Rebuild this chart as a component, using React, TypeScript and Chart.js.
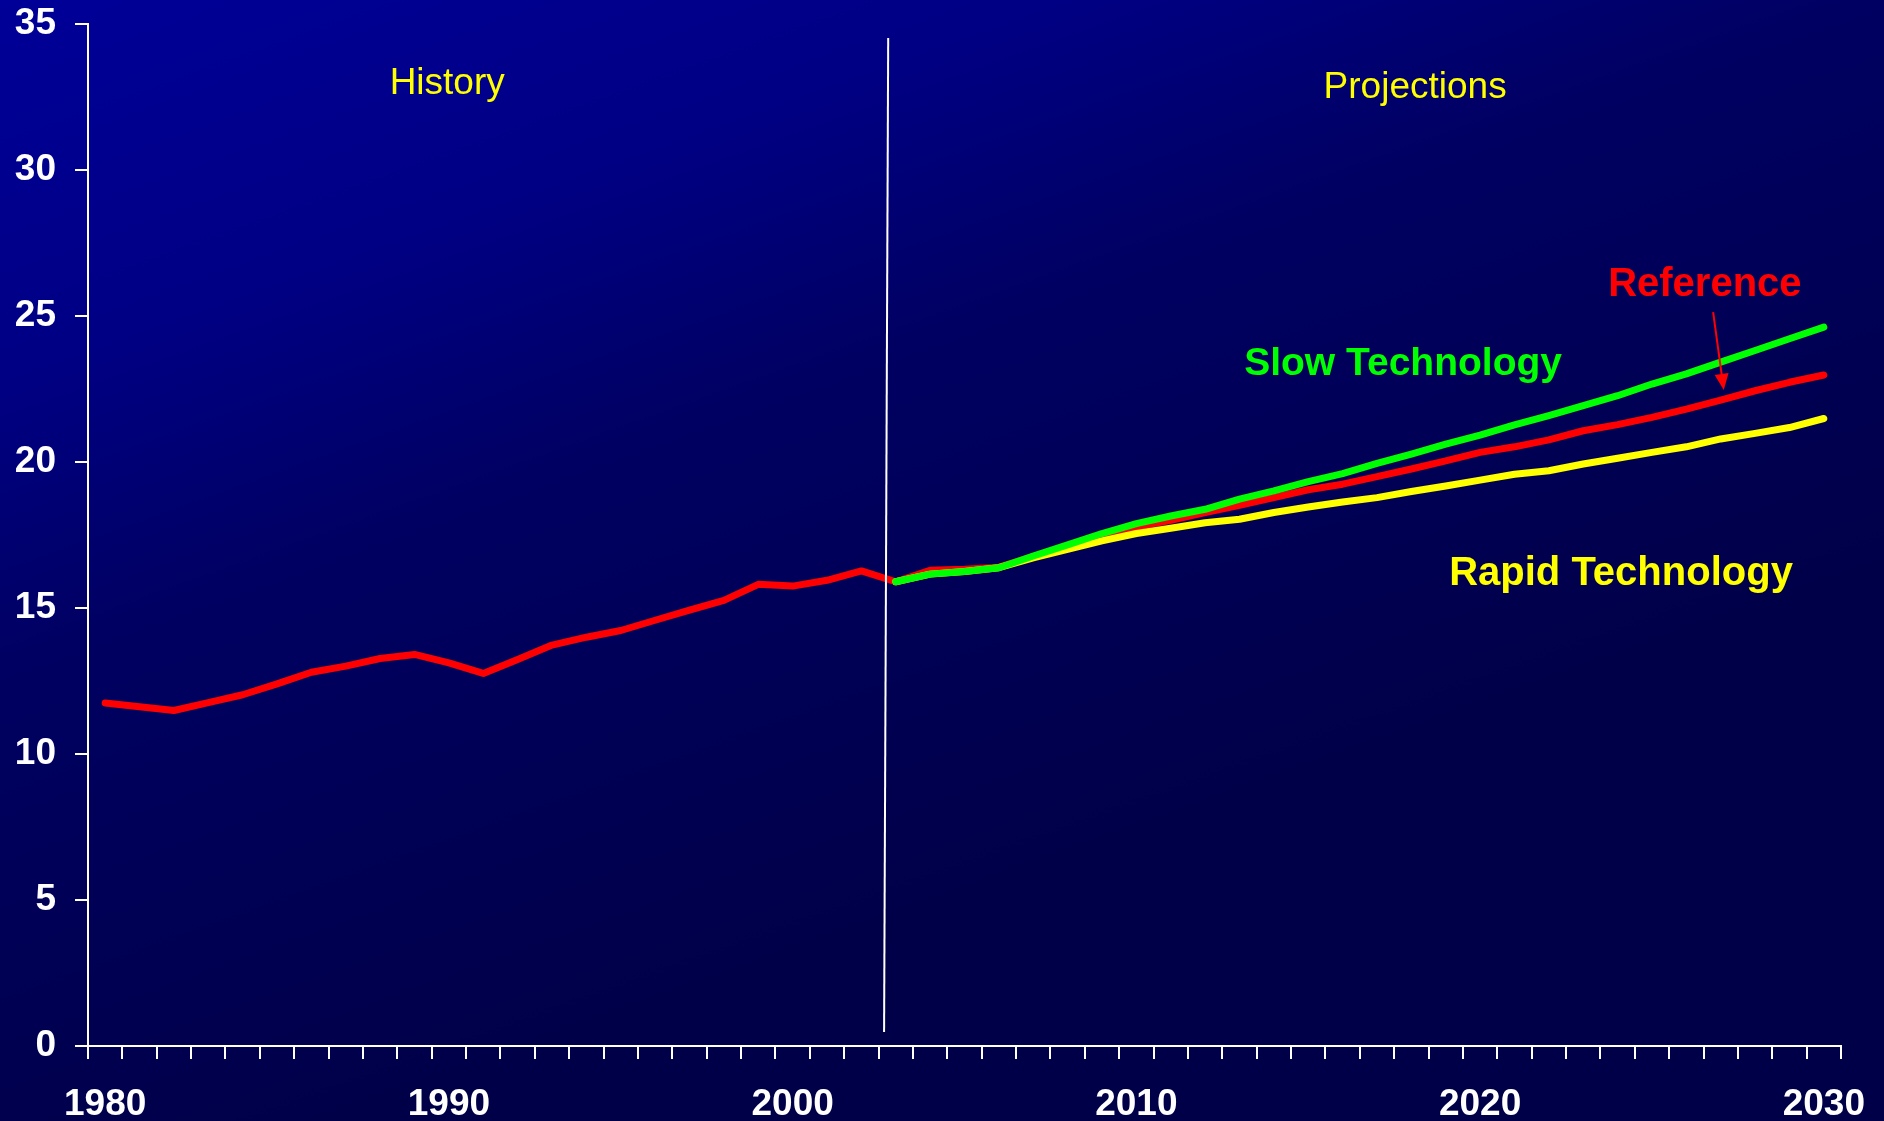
import React, { useEffect, useRef } from "react";
import { Chart, registerables } from "chart.js";

Chart.register(...registerables);

// ---- Data ----
const years: string[] = [];
for (let y = 1980; y <= 2030; y++) years.push(String(y));

// Reference case (history 1980-2003 + reference projection)
const referenceValues: number[] = [
  11.75, 11.62, 11.49, 11.76, 12.03, 12.40, 12.80, 13.01, 13.27, 13.41,
  13.12, 12.76, 13.24, 13.73, 14.00, 14.23, 14.58, 14.93, 15.26, 15.81,
  15.75, 15.95, 16.27, 15.90, 16.29, 16.33, 16.40, 16.76, 17.13, 17.50,
  17.78, 18.00, 18.27, 18.52, 18.78, 19.05, 19.24, 19.50, 19.76, 20.04,
  20.33, 20.52, 20.76, 21.07, 21.28, 21.53, 21.81, 22.12, 22.44, 22.73,
  22.98,
];

// Slow Technology, 2003-2030
const slowTechValues: number[] = [
  15.90, 16.16, 16.25, 16.38, 16.78, 17.16, 17.55, 17.89, 18.15, 18.38,
  18.73, 19.01, 19.33, 19.60, 19.95, 20.27, 20.61, 20.92, 21.27, 21.59,
  21.93, 22.27, 22.67, 23.02, 23.42, 23.82, 24.22, 24.62,
];

// Rapid Technology, 2003-2030
const rapidTechValues: number[] = [
  15.90, 16.16, 16.25, 16.38, 16.72, 17.01, 17.30, 17.55, 17.73, 17.92,
  18.04, 18.27, 18.46, 18.63, 18.78, 18.99, 19.18, 19.38, 19.58, 19.70,
  19.93, 20.13, 20.33, 20.52, 20.79, 20.98, 21.18, 21.49,
];

const projectionStartYear = 2003;
const yTicks = { min: 0, max: 35, step: 5 };
const labelYears = [1980, 1990, 2000, 2010, 2020, 2030];

// Annotations (positions in data coordinates: category index, value)
const annotationTexts = [
  { text: "History", idx: 9.95, val: 32.96, color: "#FFFF00", bold: false, size: 37 },
  { text: "Projections", idx: 38.11, val: 32.82, color: "#FFFF00", bold: false, size: 37 },
  { text: "Reference", idx: 46.54, val: 26.06, color: "#FF0000", bold: true, size: 40 },
  { text: "Slow Technology", idx: 37.76, val: 23.35, color: "#00FF00", bold: true, size: 39 },
  { text: "Rapid Technology", idx: 44.1, val: 16.18, color: "#FFFF00", bold: true, size: 40 },
];
const dividerLine = { idxTop: 22.78, valTop: 34.52, idxBottom: 22.66, valBottom: 0.48 };
const refArrow = { idxFrom: 46.78, valFrom: 25.13, idxTo: 47.09, valTo: 22.47 };

function padProjection(values: number[]): (number | null)[] {
  const offset = projectionStartYear - 1980;
  const out: (number | null)[] = [];
  for (let i = 0; i < years.length; i++) {
    out.push(i >= offset ? values[i - offset] : null);
  }
  return out;
}

const FONT = "'Liberation Sans', Arial, sans-serif";

export default function App() {
  const canvasRef = useRef<HTMLCanvasElement | null>(null);

  useEffect(() => {
    if (!canvasRef.current) return;

    const backgroundPlugin = {
      id: "bgGradient",
      beforeDraw(chart: any) {
        const { ctx, width, height } = chart;
        ctx.save();
        const g = ctx.createLinearGradient(0, 0, 400, 1121);
        g.addColorStop(0, "rgb(0,0,152)");
        g.addColorStop(0.3, "rgb(0,0,132)");
        g.addColorStop(0.53, "rgb(0,0,98)");
        g.addColorStop(0.89, "rgb(0,0,78)");
        g.addColorStop(1, "rgb(0,0,72)");
        ctx.fillStyle = g;
        ctx.fillRect(0, 0, width, height);
        ctx.restore();
      },
    };

    const annotationPlugin = {
      id: "annotations",
      afterDatasetsDraw(chart: any) {
        const { ctx } = chart;
        const xs = chart.scales.x;
        const ys = chart.scales.y;
        ctx.save();
        // divider
        ctx.strokeStyle = "#FFFFFF";
        ctx.lineWidth = 2;
        ctx.beginPath();
        ctx.moveTo(xs.getPixelForValue(dividerLine.idxTop), ys.getPixelForValue(dividerLine.valTop));
        ctx.lineTo(xs.getPixelForValue(dividerLine.idxBottom), ys.getPixelForValue(dividerLine.valBottom));
        ctx.stroke();

        // texts
        ctx.textAlign = "center";
        ctx.textBaseline = "middle";
        for (const a of annotationTexts) {
          ctx.font = `${a.bold ? "bold " : ""}${a.size}px ${FONT}`;
          ctx.fillStyle = a.color;
          ctx.fillText(a.text, xs.getPixelForValue(a.idx), ys.getPixelForValue(a.val));
        }

        // arrow
        const x1 = xs.getPixelForValue(refArrow.idxFrom);
        const y1 = ys.getPixelForValue(refArrow.valFrom);
        const x2 = xs.getPixelForValue(refArrow.idxTo);
        const y2 = ys.getPixelForValue(refArrow.valTo);
        const ang = Math.atan2(y2 - y1, x2 - x1);
        const headLen = 16;
        const headHalf = 7;
        const bx = x2 - headLen * Math.cos(ang);
        const by = y2 - headLen * Math.sin(ang);
        ctx.strokeStyle = "#FF0000";
        ctx.fillStyle = "#FF0000";
        ctx.lineWidth = 2;
        ctx.beginPath();
        ctx.moveTo(x1, y1);
        ctx.lineTo(bx, by);
        ctx.stroke();
        ctx.beginPath();
        ctx.moveTo(x2, y2);
        ctx.lineTo(bx + headHalf * Math.sin(ang), by - headHalf * Math.cos(ang));
        ctx.lineTo(bx - headHalf * Math.sin(ang), by + headHalf * Math.cos(ang));
        ctx.closePath();
        ctx.fill();
        ctx.restore();
      },
    };

    const lineStyle = {
      borderWidth: 7,
      pointRadius: 0,
      pointHoverRadius: 0,
      tension: 0,
      borderCapStyle: "round" as const,
      borderJoinStyle: "round" as const,
      spanGaps: false,
      fill: false,
    };

    const chart = new Chart(canvasRef.current, {
      type: "line",
      data: {
        labels: years,
        datasets: [
          { label: "Slow Technology", data: padProjection(slowTechValues), borderColor: "#00FF00", ...lineStyle },
          { label: "Rapid Technology", data: padProjection(rapidTechValues), borderColor: "#FFFF00", ...lineStyle },
          { label: "Reference", data: referenceValues, borderColor: "#FF0000", ...lineStyle },
        ],
      },
      options: {
        animation: false,
        responsive: false,
        devicePixelRatio: 1,
        layout: { padding: { top: 24, right: 43, left: 0, bottom: 0 } },
        plugins: {
          legend: { display: false },
          tooltip: { enabled: false },
        },
        events: [],
        scales: {
          x: {
            type: "category",
            offset: true,
            grid: {
              offset: true,
              drawOnChartArea: false,
              drawTicks: true,
              tickLength: 13,
              color: "#FFFFFF",
              lineWidth: 2,
            },
            border: { display: true, color: "#FFFFFF", width: 2 },
            ticks: {
              autoSkip: false,
              maxRotation: 0,
              minRotation: 0,
              padding: 24,
              color: "#FFFFFF",
              font: { family: FONT, size: 37, weight: "bold" },
              callback: (_v: any, i: number) => {
                const yr = Number(years[i]);
                return labelYears.includes(yr) ? String(yr) : "";
              },
            },
            afterFit: (scale: any) => {
              scale.height = 75;
              scale.paddingLeft = 0;
              scale.paddingRight = 0;
            },
          },
          y: {
            min: yTicks.min,
            max: yTicks.max,
            grid: {
              drawOnChartArea: false,
              drawTicks: true,
              tickLength: 13,
              color: "#FFFFFF",
              lineWidth: 2,
            },
            border: { display: true, color: "#FFFFFF", width: 2 },
            ticks: {
              stepSize: yTicks.step,
              padding: 19,
              color: "#FFFFFF",
              font: { family: FONT, size: 37, weight: "bold" },
            },
            afterFit: (scale: any) => {
              scale.width = 88;
              scale.paddingTop = 0;
              scale.paddingBottom = 0;
            },
          },
        },
      },
      plugins: [backgroundPlugin, annotationPlugin],
    });

    return () => chart.destroy();
  }, []);

  return (
    <div style={{ position: "fixed", left: 0, top: 0, width: 1884, height: 1121 }}>
      <canvas ref={canvasRef} width={1884} height={1121} style={{ display: "block" }} />
    </div>
  );
}
